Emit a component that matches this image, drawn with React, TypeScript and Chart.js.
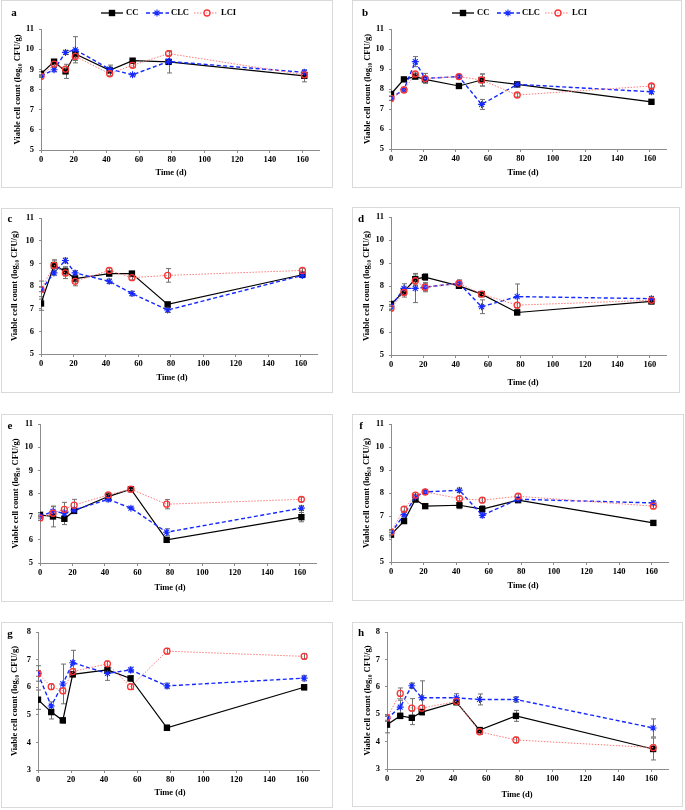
import React, { useEffect, useRef } from "react";
import { Chart, registerables } from "chart.js";

Chart.register(...registerables);

// ---------- data ----------
const days = [0, 8, 15, 21, 42, 56, 78, 161];
const xTickValues = [0, 20, 40, 60, 80, 100, 120, 140, 160];
const seriesNames = ["CC", "CLC", "LCI"];
const yTitle = "Viable cell count (log\u2081\u2080 CFU/g)";
const xTitle = "Time (d)";

// panel a
const ccA = [8.78, 9.38, 8.9, 9.76, 8.95, 9.43, 9.37, 8.68];
const clcA = [8.68, 8.98, 9.84, 9.97, 9.01, 8.73, 9.39, 8.85];
const lciA = [8.65, 9.26, 9.01, 9.64, 8.78, 9.2, 9.78, 8.73];
const ccErrA = [0.1, 0.1, 0.35, 0.2, 0.15, 0.1, 0.55, 0.3];
const clcErrA = [0.05, 0.1, 0.1, 0.65, 0.2, 0.05, 0.1, 0.1];
const lciErrA = [0.05, 0.1, 0.1, 0.2, 0.1, 0.1, 0.1, 0.1];
// panel b
const ccB = [7.75, 8.48, 8.62, 8.48, 8.15, 8.45, 8.23, 7.36];
const clcB = [7.53, 7.98, 9.37, 8.53, 8.62, 7.23, 8.23, 7.86];
const lciB = [7.53, 7.95, 8.75, 8.52, 8.62, 8.45, 7.7, 8.15];
const ccErrB = [0.1, 0.1, 0.1, 0.1, 0.1, 0.3, 0.1, 0.1];
const clcErrB = [0.1, 0.1, 0.25, 0.25, 0.1, 0.25, 0.1, 0.1];
const lciErrB = [0.1, 0.1, 0.1, 0.1, 0.1, 0.3, 0.1, 0.1];
// panel c
const ccC = [7.23, 8.91, 8.65, 8.33, 8.55, 8.55, 7.19, 8.5];
const clcC = [7.82, 8.58, 9.13, 8.58, 8.21, 7.67, 6.94, 8.47];
const lciC = [7.85, 8.91, 8.58, 8.21, 8.69, 8.37, 8.47, 8.69];
const ccErrC = [0.3, 0.2, 0.2, 0.15, 0.1, 0.1, 0.1, 0.1];
const clcErrC = [0.4, 0.1, 0.1, 0.1, 0.1, 0.1, 0.1, 0.1];
const lciErrC = [0.1, 0.25, 0.25, 0.2, 0.1, 0.1, 0.3, 0.1];
// panel d
const ccD = [7.22, 7.76, 8.3, 8.39, 8.01, 7.65, 6.85, 7.33];
const clcD = [7.1, 7.9, 7.9, 7.95, 8.12, 7.1, 7.54, 7.45];
const lciD = [7.03, 7.72, 8.23, 7.95, 8.12, 7.65, 7.17, 7.38];
const ccErrD = [0.1, 0.15, 0.25, 0.15, 0.1, 0.1, 0.1, 0.1];
const clcErrD = [0.1, 0.2, 0.62, 0.15, 0.1, 0.3, 0.55, 0.1];
const lciErrD = [0.1, 0.2, 0.2, 0.2, 0.15, 0.1, 0.1, 0.1];
// panel e
const ccE = [7.08, 7.01, 6.91, 7.25, 7.87, 8.19, 6.0, 6.98];
const clcE = [7.01, 7.23, 7.15, 7.29, 7.75, 7.37, 6.33, 7.37];
const lciE = [6.94, 7.15, 7.32, 7.5, 7.94, 8.19, 7.54, 7.75];
const ccErrE = [0.1, 0.45, 0.25, 0.1, 0.1, 0.05, 0.1, 0.2];
const clcErrE = [0.1, 0.2, 0.1, 0.1, 0.1, 0.05, 0.15, 0.1];
const lciErrE = [0.1, 0.1, 0.3, 0.25, 0.1, 0.05, 0.2, 0.1];
// panel f
const ccF = [6.19, 6.78, 7.72, 7.43, 7.47, 7.3, 7.69, 6.7];
const clcF = [6.26, 7.06, 7.83, 8.05, 8.12, 7.03, 7.73, 7.57];
const lciF = [6.31, 7.3, 7.91, 8.05, 7.76, 7.69, 7.86, 7.43];
const ccErrF = [0.1, 0.1, 0.1, 0.1, 0.15, 0.15, 0.1, 0.1];
const clcErrF = [0.1, 0.1, 0.1, 0.1, 0.1, 0.1, 0.1, 0.1];
const lciErrF = [0.1, 0.1, 0.1, 0.1, 0.1, 0.1, 0.1, 0.1];
// panel g
const ccG = [5.55, 5.1, 4.8, 6.47, 6.63, 6.32, 4.53, 6.0];
const clcG = [6.5, 5.32, 6.12, 6.89, 6.5, 6.63, 6.05, 6.33];
const lciG = [6.5, 6.02, 5.87, 6.57, 6.85, 6.02, 7.31, 7.12];
const ccErrG = [0.35, 0.25, 0.1, 0.1, 0.1, 0.1, 0.1, 0.1];
const clcErrG = [0.1, 0.15, 0.72, 0.45, 0.25, 0.1, 0.1, 0.1];
const lciErrG = [0.28, 0.1, 0.1, 0.1, 0.1, 0.1, 0.1, 0.1];
// panel h
const ccH = [4.62, 4.94, 4.87, 5.08, 5.44, 4.42, 4.94, 3.73];
const clcH = [4.84, 5.26, 6.04, 5.6, 5.6, 5.54, 5.54, 4.5];
const lciH = [4.88, 5.76, 5.22, 5.22, 5.47, 4.36, 4.06, 3.78];
const ccErrH = [0.3, 0.1, 0.25, 0.1, 0.1, 0.1, 0.2, 0.4];
const clcErrH = [0.1, 0.25, 0.1, 0.62, 0.15, 0.2, 0.1, 0.33];
const lciErrH = [0.1, 0.2, 0.35, 0.1, 0.1, 0.1, 0.1, 0.1];

// ---------- layout / style ----------
type Box = { l: number; t: number; r: number; b: number };
type PanelCfg = {
  label: string;
  cc: number[]; clc: number[]; lci: number[];
  ccErr: number[]; clcErr: number[]; lciErr: number[];
  yMin: number; yMax: number;
  box: Box; plot: Box;
  legend: boolean;
  labelPos: [number, number];
  xTitlePos: [number, number];
  yTitleOff: number;
};

const panels: PanelCfg[] = [
  { label: "a", cc: ccA, clc: clcA, lci: lciA, ccErr: ccErrA, clcErr: clcErrA, lciErr: lciErrA, yMin: 5, yMax: 11,
    box: { l: 1, t: 0, r: 333, b: 188 }, plot: { l: 41, t: 29, r: 319, b: 150 }, legend: true,
    labelPos: [14, 13], xTitlePos: [171, 173], yTitleOff: 17 },
  { label: "b", cc: ccB, clc: clcB, lci: lciB, ccErr: ccErrB, clcErr: clcErrB, lciErr: lciErrB, yMin: 5, yMax: 11,
    box: { l: 352, t: 0, r: 682, b: 188 }, plot: { l: 391, t: 29, r: 666, b: 149 }, legend: true,
    labelPos: [365, 13], xTitlePos: [523, 173], yTitleOff: 16 },
  { label: "c", cc: ccC, clc: clcC, lci: lciC, ccErr: ccErrC, clcErr: clcErrC, lciErr: lciErrC, yMin: 5, yMax: 11,
    box: { l: 1, t: 208, r: 333, b: 393 }, plot: { l: 41, t: 217, r: 317, b: 354 }, legend: false,
    labelPos: [10, 219], xTitlePos: [172, 378], yTitleOff: 14 },
  { label: "d", cc: ccD, clc: clcD, lci: lciD, ccErr: ccErrD, clcErr: clcErrD, lciErr: lciErrD, yMin: 5, yMax: 11,
    box: { l: 352, t: 207, r: 680, b: 393 }, plot: { l: 391, t: 217, r: 666, b: 355 }, legend: false,
    labelPos: [361, 219], xTitlePos: [523, 383], yTitleOff: 15 },
  { label: "e", cc: ccE, clc: clcE, lci: lciE, ccErr: ccErrE, clcErr: clcErrE, lciErr: lciErrE, yMin: 5, yMax: 11,
    box: { l: 1, t: 414, r: 333, b: 602 }, plot: { l: 40, t: 424, r: 316, b: 563 }, legend: false,
    labelPos: [10, 426], xTitlePos: [170, 588], yTitleOff: 15 },
  { label: "f", cc: ccF, clc: clcF, lci: lciF, ccErr: ccErrF, clcErr: clcErrF, lciErr: lciErrF, yMin: 5, yMax: 11,
    box: { l: 352, t: 414, r: 684, b: 601 }, plot: { l: 391, t: 424, r: 668, b: 562 }, legend: false,
    labelPos: [361, 426], xTitlePos: [523, 586], yTitleOff: 15 },
  { label: "g", cc: ccG, clc: clcG, lci: lciG, ccErr: ccErrG, clcErr: clcErrG, lciErr: lciErrG, yMin: 3, yMax: 8,
    box: { l: 1, t: 622, r: 333, b: 808 }, plot: { l: 38, t: 631, r: 319, b: 770 }, legend: false,
    labelPos: [10, 634], xTitlePos: [170, 793], yTitleOff: 14 },
  { label: "h", cc: ccH, clc: clcH, lci: lciH, ccErr: ccErrH, clcErr: clcErrH, lciErr: lciErrH, yMin: 3, yMax: 8,
    box: { l: 352, t: 622, r: 683, b: 807 }, plot: { l: 387, t: 631, r: 668, b: 769 }, legend: false,
    labelPos: [361, 633], xTitlePos: [517, 795], yTitleOff: 16 },
];

const FONT_FAMILY = "'Liberation Serif', 'Times New Roman', serif";
const tickFont = { family: FONT_FAMILY, size: 8.5, weight: "bold" as const };
const AXIS_COLOR = "#8c8c8c";
const ERR_COLOR = "#707070";
const CC_COLOR = "#000000";
const CLC_COLOR = "#1428ff";
const LCI_COLOR = "#ff3333";
const LCI_LINE = "#ff7a7a";

function drawMarker(ctx: CanvasRenderingContext2D, kind: string, x: number, y: number) {
  ctx.save();
  ctx.setLineDash([]);
  if (kind === "CC") {
    ctx.fillStyle = CC_COLOR;
    ctx.fillRect(x - 3.2, y - 3.2, 6.4, 6.4);
  } else if (kind === "CLC") {
    ctx.strokeStyle = CLC_COLOR;
    ctx.lineWidth = 1.1;
    const r = 3.5;
    ctx.beginPath();
    ctx.moveTo(x - r, y); ctx.lineTo(x + r, y);
    ctx.moveTo(x, y - r); ctx.lineTo(x, y + r);
    const d = r * Math.SQRT1_2;
    ctx.moveTo(x - d, y - d); ctx.lineTo(x + d, y + d);
    ctx.moveTo(x - d, y + d); ctx.lineTo(x + d, y - d);
    ctx.stroke();
  } else {
    ctx.strokeStyle = LCI_COLOR;
    ctx.lineWidth = 1.3;
    ctx.beginPath();
    ctx.arc(x, y, 3, 0, Math.PI * 2);
    ctx.stroke();
  }
  ctx.restore();
}

const errorBarPlugin = {
  id: "errorBars",
  beforeDatasetsDraw(chart: any) {
    const ctx = chart.ctx as CanvasRenderingContext2D;
    const xs = chart.scales.x;
    const ys = chart.scales.y;
    ctx.save();
    ctx.strokeStyle = ERR_COLOR;
    ctx.lineWidth = 1;
    chart.data.datasets.forEach((ds: any) => {
      const errs: number[] = ds.errors || [];
      ds.data.forEach((pt: any, j: number) => {
        const e = errs[j];
        if (!e) return;
        const x = Math.round(xs.getPixelForValue(pt.x)) + 0.5;
        const y1 = ys.getPixelForValue(pt.y + e);
        const y2 = ys.getPixelForValue(pt.y - e);
        ctx.beginPath();
        ctx.moveTo(x, y1); ctx.lineTo(x, y2);
        ctx.moveTo(x - 2.5, y1); ctx.lineTo(x + 2.5, y1);
        ctx.moveTo(x - 2.5, y2); ctx.lineTo(x + 2.5, y2);
        ctx.stroke();
      });
    });
    ctx.restore();
  },
};

const legendItems = [
  { name: "CC", x1: 100, x2: 122, mx: 111, tx: 125, dash: [] as number[], color: CC_COLOR, width: 1.3 },
  { name: "CLC", x1: 145, x2: 168, mx: 156, tx: 170, dash: [4, 2.5], color: CLC_COLOR, width: 1.4 },
  { name: "LCI", x1: 193, x2: 217, mx: 206, tx: 220, dash: [1.5, 1.5], color: LCI_LINE, width: 1 },
];

function makeTextPlugin(p: PanelCfg) {
  return {
    id: "panelText",
    afterDraw(chart: any) {
      const ctx = chart.ctx as CanvasRenderingContext2D;
      ctx.save();
      ctx.fillStyle = "#000";
      ctx.textBaseline = "middle";
      // panel letter
      ctx.font = `bold 11px ${FONT_FAMILY}`;
      ctx.textAlign = "center";
      ctx.fillText(p.label, p.labelPos[0] - p.box.l, p.labelPos[1] - p.box.t);
      // x title
      ctx.font = `bold 8.5px ${FONT_FAMILY}`;
      ctx.fillText(xTitle, p.xTitlePos[0] - p.box.l, p.xTitlePos[1] - p.box.t);
      // legend
      if (p.legend) {
        const y = 13;
        legendItems.forEach((it) => {
          ctx.save();
          ctx.strokeStyle = it.color;
          ctx.lineWidth = it.width;
          ctx.setLineDash(it.dash);
          ctx.beginPath();
          ctx.moveTo(it.x1, y); ctx.lineTo(it.x2, y);
          ctx.stroke();
          ctx.restore();
          drawMarker(ctx, it.name, it.mx, y);
          ctx.textAlign = "left";
          ctx.fillStyle = "#000";
          ctx.fillText(it.name, it.tx, y);
        });
      }
      ctx.restore();
    },
  };
}

function Panel({ p }: { p: PanelCfg }) {
  const ref = useRef<HTMLCanvasElement | null>(null);
  const w = p.box.r - p.box.l;
  const h = p.box.b - p.box.t;
  useEffect(() => {
    if (!ref.current) return;
    const toPts = (arr: number[]) => days.map((d, i) => ({ x: d, y: arr[i] }));
    const chart = new Chart(ref.current, {
      type: "line",
      data: {
        datasets: [
          {
            label: seriesNames[0], data: toPts(p.cc), errors: p.ccErr,
            borderColor: CC_COLOR, backgroundColor: CC_COLOR, borderWidth: 1.2,
            pointStyle: "rect", pointRadius: 4.5, pointBorderWidth: 0, order: 3, tension: 0,
          } as any,
          {
            label: seriesNames[1], data: toPts(p.clc), errors: p.clcErr,
            borderColor: CLC_COLOR, backgroundColor: CLC_COLOR, borderWidth: 1.4, borderDash: [4, 2.5],
            pointStyle: "star", pointRadius: 3.5, pointBorderWidth: 1.1, order: 2, tension: 0,
          } as any,
          {
            label: seriesNames[2], data: toPts(p.lci), errors: p.lciErr,
            borderColor: LCI_LINE, backgroundColor: "rgba(255,255,255,0)", borderWidth: 1, borderDash: [1.5, 1.5],
            pointBorderColor: LCI_COLOR, pointStyle: "circle", pointRadius: 3, pointBorderWidth: 1.3,
            order: 1, tension: 0,
          } as any,
        ],
      },
      options: {
        responsive: false,
        animation: false,
        events: [],
        layout: { padding: { top: p.plot.t - p.box.t, right: p.box.r - p.plot.r, left: 0, bottom: 0 } },
        plugins: { legend: { display: false }, tooltip: { enabled: false }, title: { display: false } },
        scales: {
          x: {
            type: "linear", min: 0, max: 170,
            afterBuildTicks: (s: any) => { s.ticks = xTickValues.map((v) => ({ value: v })); },
            afterFit: (s: any) => { s.height = p.box.b - p.plot.b; },
            grid: { drawOnChartArea: false, drawTicks: true, tickLength: 3, color: AXIS_COLOR },
            border: { display: true, color: AXIS_COLOR, width: 1 },
            ticks: { font: tickFont, color: "#000", padding: 2, maxRotation: 0, autoSkip: false },
          },
          y: {
            type: "linear", min: p.yMin, max: p.yMax,
            afterFit: (s: any) => { s.width = p.plot.l - p.box.l; },
            grid: { drawOnChartArea: false, drawTicks: true, tickLength: 2, color: AXIS_COLOR },
            border: { display: true, color: AXIS_COLOR, width: 1 },
            ticks: { font: tickFont, color: "#000", padding: 5, stepSize: 1 },
            title: {
              display: true, text: yTitle, color: "#000",
              font: { family: FONT_FAMILY, size: 8.5, weight: "bold" },
              padding: { top: p.yTitleOff - 5.1, bottom: 0 },
            },
          },
        },
      } as any,
      plugins: [errorBarPlugin, makeTextPlugin(p)],
    });
    return () => chart.destroy();
  }, [p]);
  return (
    <>
      <canvas
        ref={ref}
        width={w}
        height={h}
        style={{ position: "absolute", left: p.box.l, top: p.box.t, width: w, height: h }}
      />
      <div
        style={{
          position: "absolute", left: p.box.l, top: p.box.t, width: w, height: h,
          border: "1px solid #d9d9d9", boxSizing: "border-box", pointerEvents: "none",
        }}
      />
    </>
  );
}

export default function App() {
  return (
    <div style={{ position: "absolute", left: 0, top: 0, width: 685, height: 810, background: "#fff", overflow: "hidden" }}>
      {panels.map((p) => (
        <Panel key={p.label} p={p} />
      ))}
    </div>
  );
}
